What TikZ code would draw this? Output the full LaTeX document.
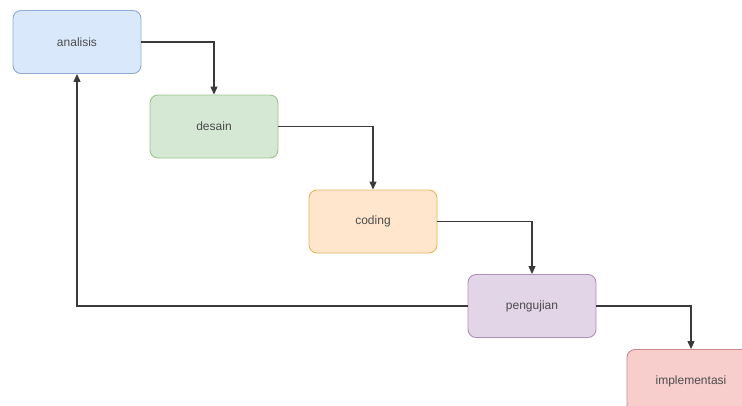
\documentclass[tikz,border=0pt]{standalone}
\usepackage{fontspec}
\setmainfont{Liberation Sans}
\usetikzlibrary{positioning,arrows.meta}
\definecolor{ink}{HTML}{3A3A3A}
\definecolor{bluebg}{HTML}{DAE8FC}
\definecolor{bluedr}{HTML}{8FAAD6}
\definecolor{greenbg}{HTML}{D5E8D4}
\definecolor{greendr}{HTML}{9CC48E}
\definecolor{amberbg}{HTML}{FFE6CC}
\definecolor{amberdr}{HTML}{E8B45A}
\definecolor{purplebg}{HTML}{E1D5E7}
\definecolor{purpledr}{HTML}{AC92B8}
\definecolor{redbg}{HTML}{F8CECC}
\definecolor{reddr}{HTML}{CC8A88}
\tikzset{
  stage/.style={rectangle,rounded corners=8pt,minimum width=128pt,minimum height=63pt,
    inner sep=0pt,line width=0.9pt,font=\fontsize{12}{14}\selectfont,text=black!70},
  stageb/.style={stage,draw=bluedr,fill=bluebg},
  stageg/.style={stage,draw=greendr,fill=greenbg},
  stagea/.style={stage,draw=amberdr,fill=amberbg},
  stagep/.style={stage,draw=purpledr,fill=purplebg},
  stager/.style={stage,draw=reddr,fill=redbg},
  ar/.style={-{Triangle[length=8pt,width=7pt]},line width=1.1pt,draw=ink},
}

\begin{document}
\begin{tikzpicture}[x=1pt,y=-1pt]
  \useasboundingbox (0,0) rectangle (742,405);
  \clip (0,0) rectangle (742,405);
  \node[stageb] (ana) at (77,42) {analisis};
  \node[stageg] (des) at (214,126.5) {desain};
  \node[stagea] (cod) at (373,221.5) {coding};
  \node[stagep] (uji) at (532,306) {pengujian};
  \node[stager] (imp) at (691,381) {implementasi};
  \draw[ar] (ana.east) -| (des.north);
  \draw[ar] (des.east) -| (cod.north);
  \draw[ar] (cod.east) -| (uji.north);
  \draw[ar] (uji.east) -| (imp.north);
  \draw[ar] (uji.west) -| (ana.south);
\end{tikzpicture}
\end{document}
